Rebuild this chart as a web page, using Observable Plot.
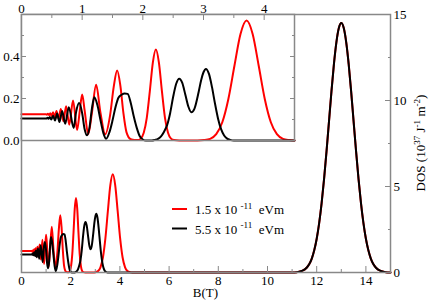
<!DOCTYPE html>
<html><head><meta charset="utf-8">
<script src="https://cdn.jsdelivr.net/npm/d3@7"></script>
<script src="https://cdn.jsdelivr.net/npm/@observablehq/plot@0.6"></script>
<style>
body{margin:0;background:#fff;}
#wrap{position:relative;width:429px;height:302px;}
#wrap svg{position:absolute;left:0;top:0;overflow:visible;}
#wrap svg text{font-family:"Liberation Serif","Times New Roman",serif;}
</style></head><body><div id="wrap"></div>
<script>
// B (T), DOS (10^37 J^-1 m^-2) — low-field part for each Rashba coupling
const redCurve = [[0,1.25],[0.40,1.25],[0.417,1.23],[0.435,1.27],[0.455,1.21],[0.474,1.30],[0.495,1.17],[0.52,1.35],[0.547,1.12],[0.577,1.41],[0.61,1.04],[0.648,1.50],[0.69,0.92],[0.736,1.63],[0.787,0.75],[0.85,1.90],[0.917,0.50],[0.96,1.40],[1.00,2.19],[1.04,1.45],[1.10,0.30],[1.16,1.30],[1.23,2.66],[1.30,1.35],[1.38,0.30],[1.46,1.20],[1.52,2.55],[1.577,3.33],[1.63,2.60],[1.68,1.30],[1.73,0.40],[1.80,0.06],[1.865,0.02],[1.915,0.02],[1.965,0.09],[2.015,0.37],[2.065,1.08],[2.115,2.34],[2.165,3.71],[2.215,4.33],[2.265,3.71],[2.315,2.34],[2.365,1.08],[2.415,0.37],[2.465,0.09],[2.515,0.02],[2.6,0],[2.9,0],[3.01,0.02],[3.11,0.08],[3.21,0.30],[3.31,0.87],[3.41,1.98],[3.51,3.56],[3.61,5.07],[3.71,5.71],[3.81,5.07],[3.91,3.56],[4.01,1.98],[4.11,0.87],[4.21,0.30],[4.31,0.08],[4.41,0.02],[4.5,0]];
const blackCurve = [[0,1.05],[0.41,1.05],[0.43,1.08],[0.445,1.03],[0.466,1.12],[0.49,1.00],[0.52,1.18],[0.553,0.95],[0.587,1.28],[0.625,0.88],[0.67,1.40],[0.72,0.80],[0.78,1.58],[0.86,0.60],[0.90,1.35],[0.95,1.78],[1.00,1.30],[1.04,0.55],[1.08,0.25],[1.12,0.60],[1.16,1.50],[1.20,2.06],[1.25,1.70],[1.30,1.00],[1.35,0.35],[1.395,0.08],[1.45,0.40],[1.50,0.95],[1.55,1.60],[1.60,2.05],[1.65,2.18],[1.70,2.24],[1.75,2.22],[1.80,1.80],[1.85,1.15],[1.90,0.60],[1.95,0.20],[2.00,0.05],[2.05,0],[2.15,0],[2.20,0.03],[2.25,0.08],[2.30,0.20],[2.35,0.42],[2.40,0.73],[2.45,1.30],[2.50,2.08],[2.55,2.70],[2.60,2.94],[2.65,2.74],[2.70,2.19],[2.75,1.62],[2.80,1.35],[2.85,1.51],[2.92,2.31],[2.96,2.86],[3.00,3.25],[3.04,3.41],[3.09,3.17],[3.14,2.54],[3.19,1.75],[3.24,1.04],[3.29,0.54],[3.34,0.24],[3.39,0.09],[3.44,0.03],[3.50,0],[4.5,0]];
// high-field peak, identical for both couplings
const highFieldPeak = [[11.0,0],[11.2,0.02],[11.4,0.09],[11.6,0.29],[11.7,0.49],[11.8,0.81],[11.9,1.29],[12.0,1.96],[12.1,2.87],[12.2,4.03],[12.3,5.44],[12.4,7.06],[12.5,8.79],[12.6,10.53],[12.7,12.11],[12.8,13.38],[12.9,14.21],[13.0,14.5],[13.1,14.21],[13.2,13.38],[13.3,12.11],[13.4,10.53],[13.5,8.79],[13.6,7.06],[13.7,5.44],[13.8,4.03],[13.9,2.87],[14.0,1.96],[14.1,1.29],[14.2,0.81],[14.3,0.49],[14.4,0.29],[14.6,0.09],[14.8,0.02],[15.0,0]];

const mainXTicks = [0,2,4,6,8,10,12,14];
const mainXMinor = [1,3,5,7,9,11,13];
const mainYTicks = [0,5,10,15];
const mainYMinor = [2.5,7.5,12.5];
const insetXTicks = [0,1,2,3,4];
const insetXMinor = [0.5,1.5,2.5,3.5];
const insetYTicks = [0,0.2,0.4];
const insetYMinor = [0.1,0.3,0.5];
const seriesNames = ["1.5 x 10", "5.5 x 10"];
const seriesColors = ["#ff0000", "#000000"];

const toRows = arr => arr.map(([B, dos]) => ({B, dos}));
const red = toRows(redCurve.concat(highFieldPeak));
const black = toRows(blackCurve.concat(highFieldPeak));

const FONT = '"Liberation Serif","Times New Roman",serif';
const FRAME = "#888";
const LW = 2;
const TXT = {fontFamily: FONT, fontSize: 13, fill: "#000"};

const main = Plot.plot({
  width: 429, height: 302,
  marginLeft: 21, marginRight: 39, marginTop: 14, marginBottom: 30,
  style: {fontFamily: FONT, fontSize: "13px", background: "transparent", color: "#000"},
  x: {domain: [0, 15]},
  y: {domain: [0, 15]},
  marks: [
    Plot.line(red, {x: "B", y: "dos", stroke: seriesColors[0], strokeWidth: LW, curve: "monotone-x"}),
    Plot.line(black, {x: "B", y: "dos", stroke: seriesColors[1], strokeWidth: LW, curve: "monotone-x"}),
    Plot.frame({stroke: FRAME, strokeWidth: 1.5}),
    Plot.axisX(mainXTicks, {anchor: "bottom", tickSize: -6, tickFormat: () => "", label: null, stroke: FRAME}),
    Plot.axisX(mainXMinor, {anchor: "bottom", tickSize: -3, tickFormat: () => "", label: null, stroke: FRAME}),
    Plot.axisX(mainXTicks, {anchor: "bottom", tickSize: 0, tickPadding: 3, label: null, ...TXT}),
    Plot.axisY(mainYTicks, {anchor: "right", tickSize: -6, tickFormat: () => "", label: null, stroke: FRAME}),
    Plot.axisY(mainYMinor, {anchor: "right", tickSize: -3, tickFormat: () => "", label: null, stroke: FRAME}),
    Plot.axisY(mainYTicks, {anchor: "right", tickSize: 0, tickPadding: 3, label: null, ...TXT})
  ]
});

const inset = Plot.plot({
  width: 300, height: 150,
  marginLeft: 21, marginRight: 6, marginTop: 14, marginBottom: 10,
  style: {fontFamily: FONT, fontSize: "13px", background: "transparent", color: "#000"},
  x: {domain: [0, 4.5]},
  y: {domain: [0, 0.6]},
  marks: [
    Plot.frame({fill: "white"}),
    Plot.line(red, {filter: d => d.B <= 4.5, x: "B", y: d => d.dos / 10, stroke: seriesColors[0], strokeWidth: LW, curve: "monotone-x"}),
    Plot.line(black, {filter: d => d.B <= 4.5, x: "B", y: d => d.dos / 10, stroke: seriesColors[1], strokeWidth: LW, curve: "monotone-x"}),
    Plot.frame({stroke: FRAME, strokeWidth: 1.5}),
    Plot.axisX(insetXTicks, {anchor: "top", tickSize: -5, tickFormat: () => "", label: null, stroke: FRAME}),
    Plot.axisX(insetXMinor, {anchor: "top", tickSize: -3, tickFormat: () => "", label: null, stroke: FRAME}),
    Plot.axisX(insetXTicks, {anchor: "top", tickSize: 0, tickPadding: 2, label: null, ...TXT}),
    Plot.axisY(insetYTicks, {anchor: "left", tickSize: -5, tickFormat: () => "", label: null, stroke: FRAME}),
    Plot.axisY(insetYMinor, {anchor: "left", tickSize: -3, tickFormat: () => "", label: null, stroke: FRAME}),
    Plot.axisY(insetYTicks, {anchor: "right", tickSize: -5, tickFormat: () => "", label: null, stroke: FRAME}),
    Plot.axisY(insetYMinor, {anchor: "right", tickSize: -3, tickFormat: () => "", label: null, stroke: FRAME}),
    Plot.axisY(insetYTicks, {anchor: "left", tickSize: 0, tickPadding: 2, label: null, ...TXT})
  ]
});

const wrap = document.getElementById("wrap");
wrap.appendChild(main);
wrap.appendChild(inset);

// rich text: axis titles and legend with superscripts
const svg = d3.select(main);
function rich(g, parts, size) {
  parts.forEach(([t, sup]) => {
    g.append("tspan").attr("font-size", sup === 1 ? size * 0.7 : size)
      .attr("dy", sup === 1 ? -size * 0.42 : (sup === -1 ? size * 0.42 : 0)).text(t);
  });
}
const xLab = svg.append("text").attr("x", 205.5).attr("y", 297).attr("text-anchor", "middle")
  .attr("font-family", FONT).attr("font-size", 13).attr("fill", "#000");
xLab.text("B(T)");

const yLab = svg.append("text").attr("transform", "translate(425,143) rotate(-90)")
  .attr("text-anchor", "middle").attr("font-family", FONT).attr("fill", "#000");
rich(yLab, [["DOS (10", 0], ["37", 1], [" J", -1], ["-1", 1], [" m", -1], ["-2", 1], [")", -1]], 13);

const leg = svg.append("g").attr("font-family", FONT).attr("fill", "#000").attr("text-anchor", "start");
seriesNames.forEach((name, i) => {
  const y = 209 + i * 19.5;
  leg.append("line").attr("x1", 172).attr("x2", 187).attr("y1", y).attr("y2", y)
    .attr("stroke", seriesColors[i]).attr("stroke-width", LW);
  const t = leg.append("text").attr("x", 195).attr("y", y + 5).attr("text-anchor", "start");
  rich(t, [[name + " ", 0], ["-11", 1], ["  eVm", -1]], 13);
});
</script></body></html>
